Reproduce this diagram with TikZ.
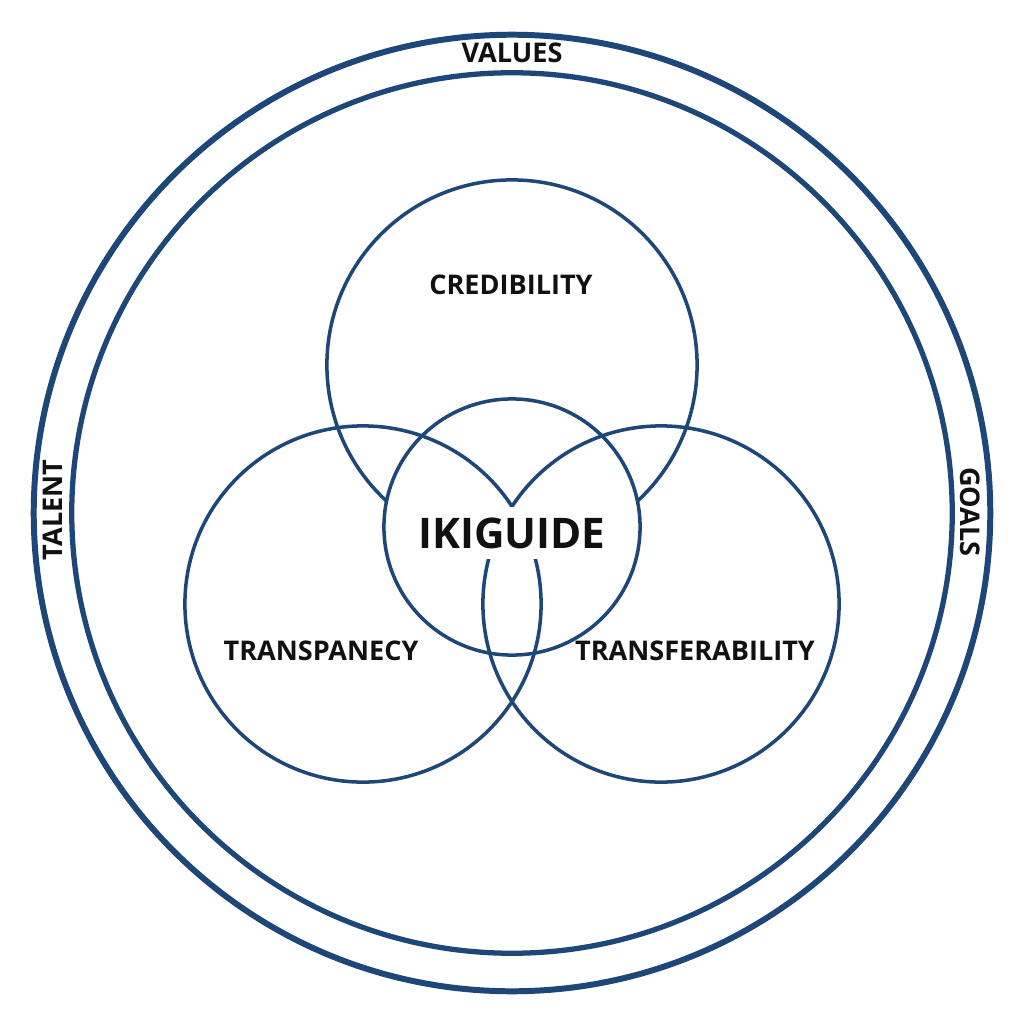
\documentclass[tikz,border=0pt]{standalone}
\usepackage{fontspec}
\setmainfont{Open Sans}
\usepackage{tikz}
\usetikzlibrary{positioning}
\definecolor{ring}{HTML}{1D4679}
\definecolor{schrift}{HTML}{111111}

\begin{document}
\begin{tikzpicture}[x=0.01cm, y=-0.01cm,
    wort/.style={font=\fontsize{7.7}{9}\selectfont\bfseries, text=schrift, inner sep=0pt},
    kreis/.style={draw=ring, line width=1pt}]
  \useasboundingbox[fill=white] (0,0) rectangle (1024,1024);

  % Mittelpunkte
  \coordinate (mitte) at (512,513);
  \coordinate (cred) at (512,365);
  \coordinate (kern) at (512,527);
  \coordinate (links) at (363,604);
  \coordinate (rechts) at (661,604);

  % die beiden Ringe
  \draw[ring, line width=1.7pt] (mitte) circle[radius=4.78cm];
  \draw[ring, line width=1.5pt] (mitte) circle[radius=4.40cm];

  % Credibility, unten vom Kern verdeckt
  \draw[kreis] (cred) circle[radius=1.85cm];
  \fill[white] (kern) circle[radius=1.28cm];
  \draw[kreis] (kern) circle[radius=1.28cm];

  % seitliche Kreise
  \draw[kreis] (links) circle[radius=1.78cm];
  \draw[kreis] (rechts) circle[radius=1.78cm];

  % Kern
  \node[wort, font=\fontsize{12}{14}\selectfont\bfseries, fill=white,
        minimum width=2.0cm, minimum height=0.52cm] (ikiguide) at (512,533) {IKIGUIDE};

  % Beschriftungen
  \node[wort] (credibility) at (511,285) {CREDIBILITY};
  \node[wort] (transpanecy) at (321,651) {TRANSPANECY};
  \node[wort] (transfer) at (695,651) {TRANSFERABILITY};
  \node[wort, fill=white, inner xsep=3pt] (values) at (512,53) {VALUES};
  \node[wort, rotate=90] (talent) at (53,510) {TALENT};
  \node[wort, rotate=-90] (goals) at (970,512) {GOALS};
\end{tikzpicture}
\end{document}
